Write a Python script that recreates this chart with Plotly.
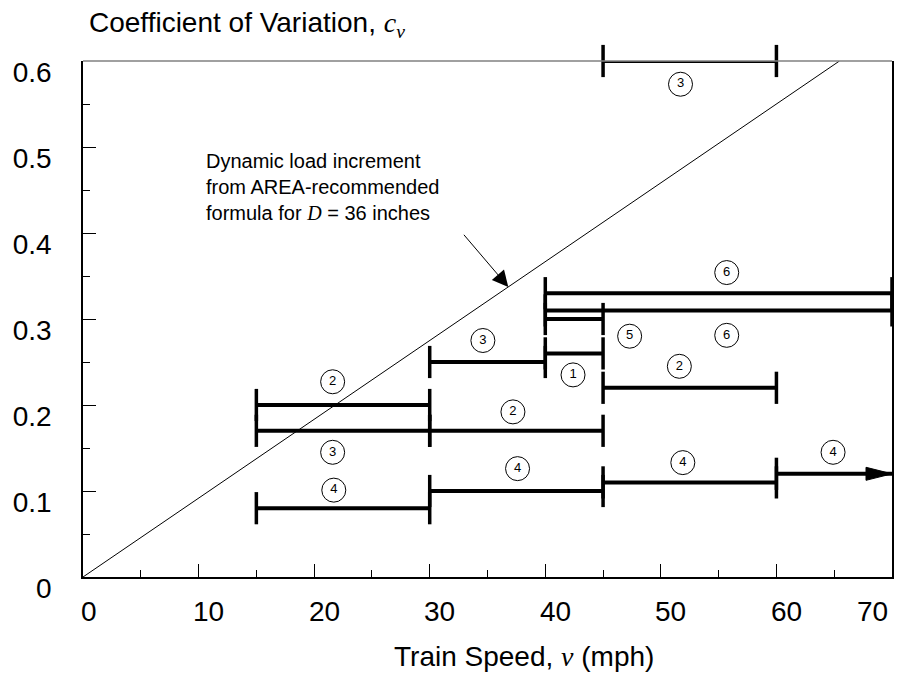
import plotly.graph_objects as go

# ---- data ----
bar_x0 = [45, 40, 40, 40, 40, 30, 45, 15, 15, 30, 15, 30, 45]
bar_x1 = [60, 70, 70, 45, 45, 40, 60, 30, 30, 45, 30, 45, 60]
bar_y = [0.60, 0.33, 0.31, 0.30, 0.26, 0.25, 0.22, 0.20, 0.17, 0.17, 0.08, 0.10, 0.11]

arrow_x0, arrow_x1, arrow_y = 60, 70, 0.12

label_text = ["3", "6", "6", "5", "1", "3", "2", "2", "3", "2", "4", "4", "4", "4"]
label_x = [51.7, 55.7, 55.7, 47.3, 42.4, 34.6, 51.6, 21.6, 21.6, 37.2, 21.7, 37.6, 51.9, 64.9]
label_y = [0.573, 0.354, 0.281, 0.280, 0.235, 0.275, 0.245, 0.227, 0.145, 0.192, 0.101, 0.126, 0.133, 0.145]

# AREA-recommended dynamic load increment: 33 v / (100 D), D = 36 in
D_in = 36
area_v = [0, 100 * D_in * 0.6 / 33]
area_y = [33 * v / (100 * D_in) for v in area_v]

note_v_tail, note_c_tail = 32.7, 0.402
note_v_head = 36.8

x_ticks = [0, 10, 20, 30, 40, 50, 60, 70]
x_ticktext = ["0", "10", "20", "30", "40", "50", "60", "70"]
x_label_shift = [6, 10, 10, 10, 10, 10, 10, -20]
y_ticks = [0, 0.1, 0.2, 0.3, 0.4, 0.5, 0.6]
y_ticktext = ["0", "0.1", "0.2", "0.3", "0.4", "0.5", "0.6"]

FONT = "Liberation Sans, Arial, sans-serif"

fig = go.Figure()

# diagonal line
fig.add_trace(go.Scatter(x=area_v, y=area_y, mode="lines",
                         line=dict(color="black", width=1), hoverinfo="skip",
                         showlegend=False))

# range bars with end caps
for x0, x1, y in zip(bar_x0, bar_x1, bar_y):
    fig.add_trace(go.Scatter(
        x=[x0, x1], y=[y, y], mode="lines+markers",
        line=dict(color="black", width=4),
        marker=dict(symbol="line-ns", size=23, color="black",
                    line=dict(color="black", width=3.5)),
        cliponaxis=False, showlegend=False, hoverinfo="skip"))

# arrow bar
fig.add_trace(go.Scatter(
    x=[arrow_x0, arrow_x1], y=[arrow_y, arrow_y], mode="lines",
    line=dict(color="black", width=4),
    cliponaxis=False, showlegend=False, hoverinfo="skip"))
fig.add_trace(go.Scatter(
    x=[arrow_x0], y=[arrow_y], mode="markers",
    marker=dict(symbol="line-ns", size=23, color="black",
                line=dict(color="black", width=3.5)),
    cliponaxis=False, showlegend=False, hoverinfo="skip"))
fig.add_shape(type="path", xref="x", yref="y",
              xsizemode="pixel", ysizemode="pixel",
              xanchor=arrow_x1, yanchor=arrow_y,
              path="M0,0 L-26,6.5 L-26,-6.5 Z",
              fillcolor="black", line=dict(color="black", width=1))

# circled labels
fig.add_trace(go.Scatter(
    x=label_x, y=label_y, mode="markers+text", text=label_text,
    textposition="middle center",
    textfont=dict(family=FONT, size=13, color="black"),
    marker=dict(symbol="circle-open", size=24, color="black",
                line=dict(color="black", width=1)),
    cliponaxis=False, showlegend=False, hoverinfo="skip"))

# note arrow
fig.add_annotation(x=note_v_head, y=33 * note_v_head / (100 * D_in),
                   ax=note_v_tail, ay=note_c_tail, axref="x", ayref="y",
                   xref="x", yref="y", text=" ", showarrow=True,
                   arrowhead=2, arrowsize=3.2, arrowwidth=1, arrowcolor="black")
fig.add_annotation(x=10.47, y=0.4535, xref="x", yref="y", xanchor="left",
                   yanchor="middle", align="left", showarrow=False,
                   text=("Dynamic load increment<br>from AREA-recommended<br>"
                         "formula for <span style=\"font-family:'Liberation Serif'\"><i>D</i></span> = 36 inches"),
                   font=dict(family=FONT, size=20, color="black"))

# x tick labels
for v, t, s in zip(x_ticks, x_ticktext, x_label_shift):
    fig.add_annotation(x=v, y=0, xref="x", yref="paper", text=t,
                       showarrow=False, xanchor="center", yanchor="middle",
                       xshift=s, yshift=-34,
                       font=dict(family=FONT, size=28, color="black"))

# axis titles
fig.add_annotation(x=0.005, y=1.0717, xref="paper", yref="paper",
                   xanchor="left", yanchor="middle", showarrow=False,
                   text=("Coefficient of Variation, "
                         "<span style=\"font-family:'Liberation Serif'\"><i>c</i><sub><i>v</i></sub></span>"),
                   font=dict(family=FONT, size=28, color="black"))
fig.add_annotation(x=0.545, y=-0.155, xref="paper", yref="paper",
                   xanchor="center", yanchor="middle", showarrow=False,
                   text=("Train Speed, <span style=\"font-family:'Liberation Serif'\"><i>v</i></span> (mph)"),
                   font=dict(family=FONT, size=28, color="black"))

# top frame line (gray)
fig.add_shape(type="line", xref="paper", yref="paper", x0=0, x1=1, y0=1, y1=1,
              line=dict(color="#808080", width=1.5))

fig.update_layout(
    width=922, height=688,
    margin=dict(l=83, r=30, t=61, b=111, autoexpand=False),
    paper_bgcolor="white", plot_bgcolor="white",
    font=dict(family=FONT, color="black"),
    showlegend=False,
    xaxis=dict(range=[0, 70], tickvals=x_ticks, ticks="inside", ticklen=13,
               tickwidth=1.2, tickcolor="black", showgrid=False, zeroline=False,
               showline=True, linecolor="black", linewidth=1.5, mirror=False,
               showticklabels=False, automargin=False,
               minor=dict(dtick=5, ticks="inside", ticklen=7, tickcolor="black",
                          tickwidth=1.2, showgrid=False)),
    yaxis=dict(range=[0, 0.6], tickvals=y_ticks, ticktext=y_ticktext,
               ticks="inside", ticklen=13, automargin=False,
               tickwidth=1.2, tickcolor="black", showgrid=False, zeroline=False,
               showline=True, linecolor="black", linewidth=1.5, mirror=True,
               tickfont=dict(family=FONT, size=28, color="black"),
               ticklabelshift=11, ticklabelstandoff=24,
               minor=dict(dtick=0.05, ticks="inside", ticklen=7, tickcolor="black",
                          tickwidth=1.2, showgrid=False)),
)

fig.write_html("out.html", config={"displayModeBar": False},
               post_script="document.body.style.margin='0px';document.body.style.padding='0px';")
